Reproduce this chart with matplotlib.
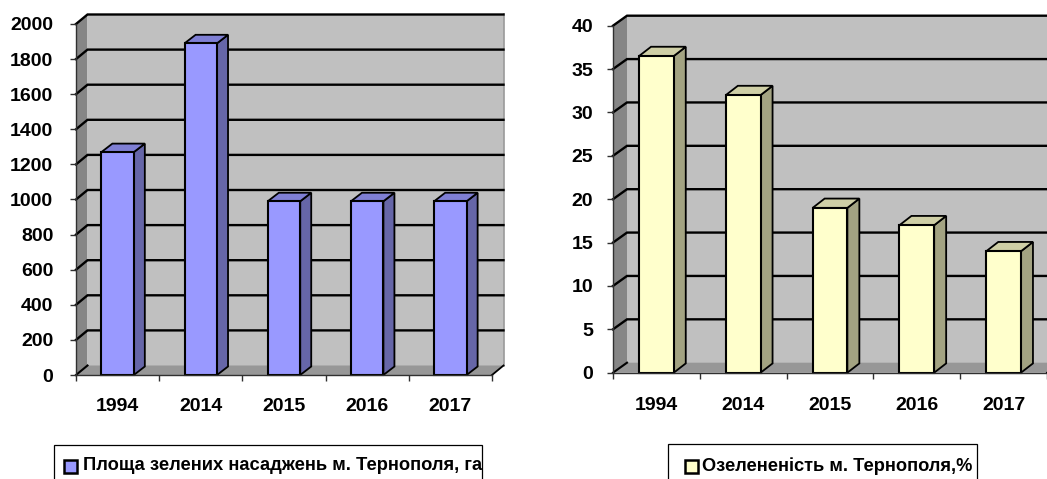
import matplotlib
matplotlib.use('Agg')
import matplotlib.pyplot as plt
from matplotlib.patches import Polygon, Rectangle
from matplotlib.lines import Line2D
from matplotlib.transforms import IdentityTransform
import numpy as np

# ---------------- data ----------------
years = ['1994', '2014', '2015', '2016', '2017']
area_ha = [1270, 1890, 990, 990, 990]
greenness_pct = [36.5, 32.0, 19.0, 17.0, 14.0]
area_ticks = list(range(0, 2001, 200))
pct_ticks = list(range(0, 41, 5))
legend_area = 'Площа зелених насаджень м. Тернополя, га'
legend_pct = 'Озелененість м. Тернополя,%'

# ---------------- figure ----------------
W, H, DPI = 1047, 479, 100
plt.rcParams['font.family'] = ['Liberation Sans', 'DejaVu Sans']
plt.rcParams['font.weight'] = 'bold'
fig = plt.figure(figsize=(W / DPI, H / DPI), dpi=DPI)
fig.patch.set_facecolor('white')
T = IdentityTransform()


def px_axes(x0, x1, y_top, y_bottom):
    return fig.add_axes([x0 / W, (H - y_bottom) / H, (x1 - x0) / W, (y_bottom - y_top) / H])


def draw_chart(ax, values, ticks, wall_d, bar_d, front, top, side, bar_w, ypad, xpad):
    n = len(values)
    ymax = ticks[-1]
    ax.set_xlim(-0.5, n - 0.5)
    ax.set_ylim(0, ymax)
    ax.patch.set_visible(False)

    def P(x, y, d=(0, 0)):
        px, py = ax.transData.transform((x, y))
        return (px + d[0], py + d[1])

    def poly(pts, fc, ec='none', lw=0, z=1):
        ax.add_patch(Polygon(pts, closed=True, facecolor=fc, edgecolor=ec, linewidth=lw,
                             transform=T, clip_on=False, zorder=z, joinstyle='miter'))

    def line(pts, color='black', lw=1.5, z=2):
        xs, ys = zip(*pts)
        ax.add_line(Line2D(xs, ys, color=color, linewidth=lw, transform=T, clip_on=False,
                           zorder=z, solid_joinstyle='miter'))

    L, R = -0.5, n - 0.5
    wd = wall_d
    # back wall
    poly([P(L, 0, wd), P(R, 0, wd), P(R, ymax, wd), P(L, ymax, wd)], '#c0c0c0', z=0.5)
    # side wall
    poly([P(L, 0), P(L, 0, wd), P(L, ymax, wd), P(L, ymax)], '#868686', z=0.6)
    # floor
    poly([P(L, 0), P(R, 0), P(R, 0, wd), P(L, 0, wd)], '#979797', z=0.6)
    # wall edges
    line([P(R, 0, wd), P(R, ymax, wd)], color='#9a9a9a', lw=1.2, z=0.7)
    line([P(R, 0), P(R, 0, wd)], color='black', lw=1.3, z=0.7)
    # gridlines
    for v in ticks:
        if v == ticks[0]:
            line([P(L, v), P(L, v, wd)], lw=1.5, z=0.8)
        else:
            line([P(L, v), P(L, v, wd), P(R, v, wd)], lw=1.7, z=0.8)
    # bars
    for i, v in enumerate(values):
        x0, x1 = i - bar_w / 2, i + bar_w / 2
        poly([P(x1, 0), P(x1, 0, bar_d), P(x1, v, bar_d), P(x1, v)], side, 'black', 1.3, 3)
        poly([P(x0, v), P(x1, v), P(x1, v, bar_d), P(x0, v, bar_d)], top, 'black', 1.3, 3)
        poly([P(x0, 0), P(x1, 0), P(x1, v), P(x0, v)], front, 'black', 1.5, 3.1)

    # front axes
    for s in ['top', 'right']:
        ax.spines[s].set_visible(False)
    for s in ['left', 'bottom']:
        ax.spines[s].set_color('#303030')
        ax.spines[s].set_linewidth(1.0)
        ax.spines[s].set_zorder(4)
    ax.set_yticks(ticks)
    ax.set_yticklabels([str(t) for t in ticks])
    ax.tick_params(axis='y', direction='out', length=4.3, width=1, color='#303030',
                   pad=ypad, labelsize=14)
    ax.set_xticks(np.arange(n + 1) - 0.5)
    ax.set_xticklabels([''] * (n + 1))
    ax.set_xticks(np.arange(n), labels=years, minor=True)
    ax.tick_params(axis='x', which='major', direction='out', length=4.3, width=1, color='#303030')
    ax.tick_params(axis='x', which='minor', length=0, pad=xpad, labelsize=14)
    for lab in ax.get_yticklabels() + ax.get_xticklabels(minor=True):
        lab.set_fontweight('bold')


ax1 = px_axes(76, 492, 24, 375)
draw_chart(ax1, area_ha, area_ticks, (11.5, 9.5), (11, 8.5),
           '#9999ff', '#7f7fd4', '#6666a8', 0.39, 12, 16.5)

ax2 = px_axes(613, 1047, 25.7, 372.7)
draw_chart(ax2, greenness_pct, pct_ticks, (14, 10), (12, 9.3),
           '#ffffcc', '#cfcfa6', '#a3a382', 0.40, 10, 17.5)

# ---------------- legends ----------------
renderer = fig.canvas.get_renderer()


def legend(x0, x1, y_top, mx0, tx0, tx1, ty, color, label):
    fig.patches.append(Rectangle((x0 / W, (H - 500) / H), (x1 - x0) / W, (500 - y_top) / H,
                                 transform=fig.transFigure, facecolor='white',
                                 edgecolor='black', linewidth=0.9, zorder=1))
    ms = 13
    fig.patches.append(Rectangle((mx0 / W, (H - ty - ms / 2) / H), ms / W, ms / H,
                                 transform=fig.transFigure, facecolor=color,
                                 edgecolor='black', linewidth=1.8, zorder=2))
    t = fig.text(tx0 / W, (H - ty) / H, label, ha='left', va='center', fontsize=12,
                 fontweight='bold', zorder=3)
    w = t.get_window_extent(renderer).width
    t.set_fontsize(12 * (tx1 - tx0) / w)


legend(54, 482, 445, 64, 83, 480, 466, '#9999ff', legend_area)
legend(668, 977, 444, 685, 702, 971, 466.5, '#ffffcc', legend_pct)

fig.savefig('out.png', dpi=DPI)
